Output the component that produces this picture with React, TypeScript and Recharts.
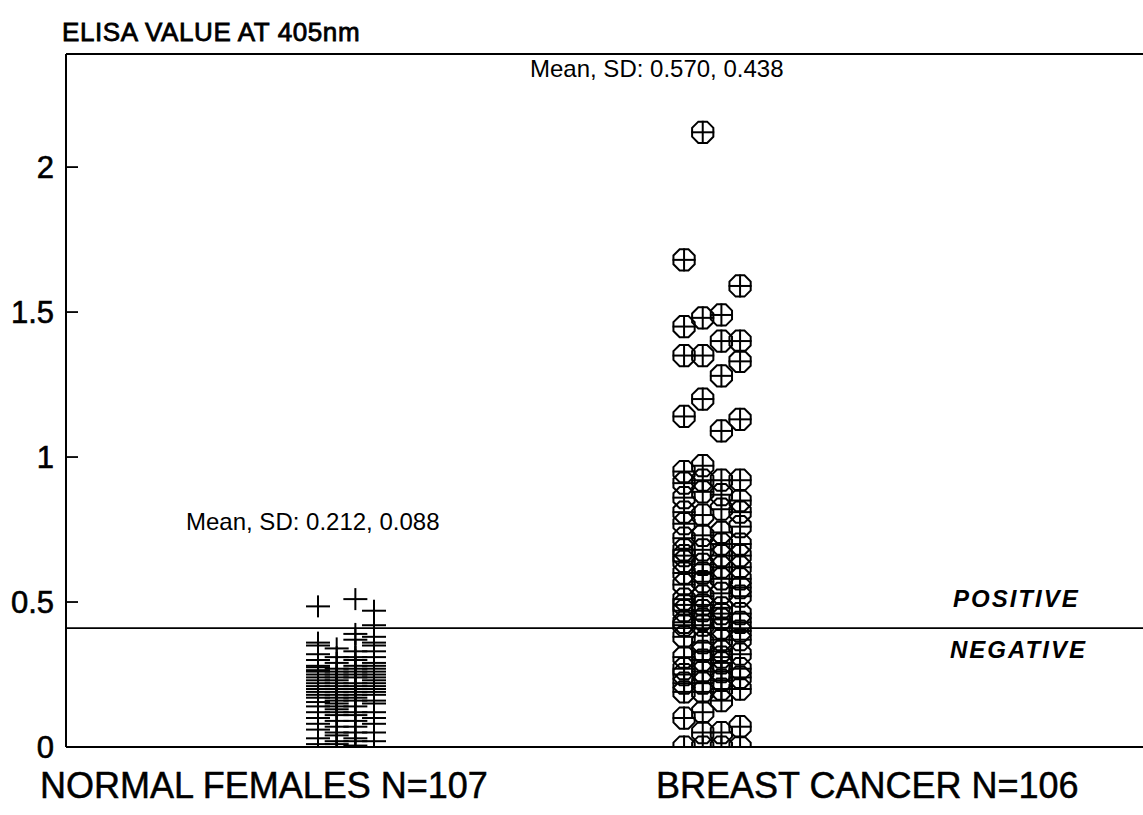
import React from 'react';
import { ScatterChart, Scatter, XAxis, YAxis, ReferenceLine } from 'recharts';

// ---- data ----
const TITLE = 'ELISA VALUE AT 405nm';
const Y_TICKS = [0, 0.5, 1, 1.5, 2];
const Y_MAX = 2.39;
const CUTOFF = 0.41;
const GROUP_LABELS = ['NORMAL FEMALES N=107', 'BREAST CANCER N=106'];
const GROUP_STATS = ['Mean, SD: 0.212, 0.088', 'Mean, SD: 0.570, 0.438'];
const ZONE_LABELS = ['POSITIVE', 'NEGATIVE'];

const normalCol1 = [0.485, 0.36, 0.35, 0.32, 0.30, 0.28, 0.275, 0.265, 0.26, 0.25, 0.24, 0.23, 0.22, 0.21, 0.20, 0.19, 0.18, 0.17, 0.155, 0.14, 0.12, 0.10, 0.08, 0.06, 0.03, 0.01];
const normalCol2 = [0.34, 0.31, 0.29, 0.27, 0.26, 0.25, 0.24, 0.23, 0.22, 0.21, 0.20, 0.19, 0.18, 0.17, 0.16, 0.15, 0.14, 0.13, 0.12, 0.11, 0.09, 0.07, 0.05, 0.04, 0.02, 0.01, 0.0];
const normalCol3 = [0.51, 0.39, 0.37, 0.33, 0.31, 0.30, 0.28, 0.27, 0.26, 0.25, 0.24, 0.22, 0.21, 0.20, 0.19, 0.18, 0.17, 0.16, 0.14, 0.12, 0.11, 0.09, 0.07, 0.05, 0.03, 0.02, 0.005];
const normalCol4 = [0.47, 0.42, 0.38, 0.36, 0.35, 0.33, 0.31, 0.29, 0.28, 0.27, 0.26, 0.25, 0.24, 0.23, 0.22, 0.21, 0.20, 0.19, 0.18, 0.16, 0.15, 0.12, 0.10, 0.08, 0.05, 0.02, 0.0];

const cancerCol1 = [1.68, 1.45, 1.35, 1.14, 0.95, 0.91, 0.86, 0.81, 0.77, 0.72, 0.68, 0.66, 0.64, 0.60, 0.56, 0.51, 0.49, 0.47, 0.43, 0.42, 0.38, 0.31, 0.27, 0.25, 0.22, 0.19, 0.10, 0.0];
const cancerCol2 = [2.12, 1.48, 1.35, 1.20, 0.97, 0.92, 0.88, 0.80, 0.73, 0.68, 0.63, 0.60, 0.57, 0.52, 0.49, 0.47, 0.44, 0.42, 0.36, 0.33, 0.30, 0.26, 0.22, 0.19, 0.12, 0.05, 0.0];
const cancerCol3 = [1.49, 1.40, 1.28, 1.09, 0.92, 0.87, 0.82, 0.74, 0.70, 0.66, 0.62, 0.58, 0.53, 0.48, 0.46, 0.44, 0.41, 0.37, 0.33, 0.31, 0.29, 0.26, 0.23, 0.20, 0.16, 0.05, 0.0];
const cancerCol4 = [1.59, 1.40, 1.33, 1.13, 0.92, 0.85, 0.81, 0.76, 0.70, 0.66, 0.62, 0.58, 0.55, 0.52, 0.46, 0.43, 0.40, 0.37, 0.32, 0.27, 0.24, 0.20, 0.07, 0.0];

// ---- layout constants ----
const GROUP_X = [1, 2];
const COL_OFFSETS = [-0.0765, -0.0255, 0.0255, 0.0765];
const X_DOMAIN: [number, number] = [0.235, 3.333];
const FONT = '"Liberation Sans", Arial, Helvetica, sans-serif';

const toPoints = (cols: number[][], g: number) =>
  cols.flatMap((col, i) => col.map((v) => ({ x: GROUP_X[g] + COL_OFFSETS[i], y: v })));

const normalData = toPoints([normalCol1, normalCol2, normalCol3, normalCol4], 0);
const cancerData = toPoints([cancerCol1, cancerCol2, cancerCol3, cancerCol4], 1);

const CrossShape = (p: any) => {
  const { cx, cy } = p;
  return (
    <g stroke="#000" strokeWidth={2}>
      <line x1={cx - 12} x2={cx + 12} y1={cy} y2={cy} />
      <line x1={cx} x2={cx} y1={cy - 11} y2={cy + 11} />
    </g>
  );
};

const OctShape = (p: any) => {
  const { cx, cy } = p;
  const r = 11.5;
  const pts = Array.from({ length: 8 }, (_, k) => {
    const a = (Math.PI / 8) + (k * Math.PI) / 4;
    return `${cx + r * Math.cos(a)},${cy + r * Math.sin(a)}`;
  }).join(' ');
  return (
    <g stroke="#000" strokeWidth={2} fill="none">
      <polygon points={pts} />
      <line x1={cx - r} x2={cx + r} y1={cy} y2={cy} />
      <line x1={cx} x2={cx} y1={cy - r} y2={cy + r} />
    </g>
  );
};

const YTick = (p: any) => {
  const { y, payload } = p;
  return (
    <g>
      <line x1={66} x2={78} y1={y} y2={y} stroke="#000" strokeWidth={1.8} />
      <text x={54} y={y} dy={11} textAnchor="end" fontSize={31} fontFamily={FONT} fill="#000" stroke="#000" strokeWidth={0.6}>
        {String(payload.value)}
      </text>
    </g>
  );
};

export default function App() {
  return (
    <div style={{ position: 'absolute', left: 0, top: 0, width: 1143, height: 815, overflow: 'hidden', background: '#fff' }}>
      <ScatterChart width={1200} height={815} margin={{ top: 54, right: 0, bottom: 68, left: 0 }}>
        <XAxis type="number" dataKey="x" domain={X_DOMAIN} allowDataOverflow hide />
        <YAxis
          type="number"
          dataKey="y"
          domain={[0, Y_MAX]}
          ticks={Y_TICKS}
          width={66}
          tickLine={false}
          axisLine={{ stroke: '#000', strokeWidth: 2 }}
          tick={YTick}
          allowDataOverflow
        />
        <ReferenceLine y={Y_MAX} stroke="#000" strokeWidth={2} />
        <ReferenceLine y={0} stroke="#000" strokeWidth={2} />
        <ReferenceLine y={CUTOFF} stroke="#000" strokeWidth={1.6} />
        <Scatter data={normalData} shape={CrossShape} isAnimationActive={false} />
        <Scatter data={cancerData} shape={OctShape} isAnimationActive={false} />
      </ScatterChart>
      <svg width={1143} height={815} style={{ position: 'absolute', left: 0, top: 0, pointerEvents: 'none' }}>
        <g fontFamily={FONT} fill="#000">
          <text x={62} y={41} fontSize={26} stroke="#000" strokeWidth={0.8} letterSpacing={0.6}>{TITLE}</text>
          <text x={186} y={530} fontSize={24}>{GROUP_STATS[0]}</text>
          <text x={530} y={77} fontSize={24}>{GROUP_STATS[1]}</text>
          <text x={953} y={607} fontSize={24} fontWeight="bold" fontStyle="italic" letterSpacing={2}>{ZONE_LABELS[0]}</text>
          <text x={950} y={658} fontSize={24} fontWeight="bold" fontStyle="italic" letterSpacing={2}>{ZONE_LABELS[1]}</text>
          <text x={40} y={798} fontSize={36} stroke="#000" strokeWidth={0.5}>{GROUP_LABELS[0]}</text>
          <text x={656} y={798} fontSize={36} stroke="#000" strokeWidth={0.5}>{GROUP_LABELS[1]}</text>
        </g>
      </svg>
    </div>
  );
}
